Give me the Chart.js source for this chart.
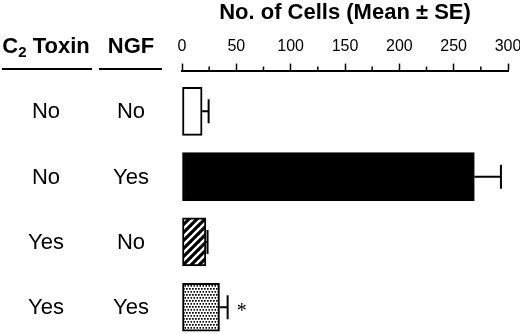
<!DOCTYPE html>
<html>
<head>
<meta charset="utf-8">
<script src="https://cdn.jsdelivr.net/npm/chart.js@4"></script>
<style>
  body { margin: 0; background: #fff; }
  #wrap { width: 520px; height: 334px; overflow: hidden; }
</style>
</head>
<body>
<div id="wrap"><canvas id="cellsChart"></canvas></div>
<script>
const c2Toxin = ["No", "No", "Yes", "Yes"];
const ngf = ["No", "Yes", "No", "Yes"];
const meanCells = [18.5, 269, 22, 34.5];
const seCells = [6, 24.5, 1.5, 7.5];
const marks = ["", "", "", "*"];
const xTicks = [0, 50, 100, 150, 200, 250, 300];

const FONT = "'Liberation Sans', Arial, Helvetica, sans-serif";

function stripePattern() {
    const c = document.createElement("canvas");
    c.width = 8; c.height = 8;
    const g = c.getContext("2d");
    g.fillStyle = "#fff";
    g.fillRect(0, 0, 8, 8);
    g.strokeStyle = "#000";
    g.lineWidth = 3.2;
    [[-8, 8, 8, -8], [0, 8, 8, 0], [0, 16, 16, 0]].forEach(p => {
        g.beginPath();
        g.moveTo(p[0], p[1]);
        g.lineTo(p[2], p[3]);
        g.stroke();
    });
    return g.createPattern(c, "repeat");
}

function dotPattern() {
    const c = document.createElement("canvas");
    c.width = 3; c.height = 6;
    const g = c.getContext("2d");
    g.fillStyle = "#fff";
    g.fillRect(0, 0, 3, 6);
    g.fillStyle = "#000";
    g.fillRect(0, 0, 1.7, 1.7);
    g.fillRect(1.5, 3, 1.7, 1.7);
    return g.createPattern(c, "repeat");
}

// row labels, headers, minor ticks, error bars
const extras = {
    id: "extras",
    afterDatasetsDraw(chart) {
        const ctx = chart.ctx;
        const x = chart.scales.x;
        const y = chart.scales.y;
        const bars = chart.getDatasetMeta(0).data;
        ctx.save();
        ctx.strokeStyle = "#000";
        ctx.fillStyle = "#000";
        ctx.lineWidth = 2;

        // error bars
        bars.forEach((bar, i) => {
            const xe = x.getPixelForValue(meanCells[i] + seCells[i]);
            ctx.beginPath();
            ctx.moveTo(bar.x, bar.y);
            ctx.lineTo(xe, bar.y);
            ctx.moveTo(xe, bar.y - 12);
            ctx.lineTo(xe, bar.y + 12);
            ctx.stroke();
            if (marks[i]) {
                ctx.font = "20px 'Liberation Serif', serif";
                ctx.textAlign = "center";
                ctx.textBaseline = "middle";
                ctx.fillText(marks[i], xe + 14, bar.y + 5);
            }
        });

        // minor ticks
        ctx.lineWidth = 1.5;
        for (let v = 25; v < 300; v += 50) {
            const px = x.getPixelForValue(v);
            ctx.beginPath();
            ctx.moveTo(px, x.bottom);
            ctx.lineTo(px, x.bottom - 4);
            ctx.stroke();
        }

        // table on the left
        ctx.font = "22px " + FONT;
        ctx.textAlign = "center";
        ctx.textBaseline = "alphabetic";
        c2Toxin.forEach((t, i) => {
            const py = y.getPixelForValue(i) + 7;
            ctx.fillText(t, 46, py);
            ctx.fillText(ngf[i], 131, py);
        });

        // headers
        const base = 53;
        ctx.textAlign = "left";
        ctx.font = "bold 22px " + FONT;
        const wC = ctx.measureText("C").width;
        const wT = ctx.measureText(" Toxin").width;
        ctx.font = "bold 15px " + FONT;
        const w2 = ctx.measureText("2").width;
        let sx = 46 - (wC + w2 + wT) / 2;
        ctx.font = "bold 22px " + FONT;
        ctx.fillText("C", sx, base);
        ctx.font = "bold 15px " + FONT;
        ctx.fillText("2", sx + wC, base + 4);
        ctx.font = "bold 22px " + FONT;
        ctx.fillText(" Toxin", sx + wC + w2, base);
        ctx.textAlign = "center";
        ctx.fillText("NGF", 131, base);

        ctx.lineWidth = 2;
        ctx.beginPath();
        ctx.moveTo(2, 69); ctx.lineTo(92, 69);
        ctx.moveTo(99, 69); ctx.lineTo(162, 69);
        ctx.stroke();
        ctx.restore();
    }
};

new Chart(document.getElementById("cellsChart"), {
    type: "bar",
    data: {
        datasets: [{
            data: meanCells.map((m, i) => ({ x: m, y: i })),
            backgroundColor: ["#fff", "#000", stripePattern(), dotPattern()],
            borderColor: "#000",
            borderWidth: 2,
            borderSkipped: false,
            barThickness: 48
        }]
    },
    options: {
        indexAxis: "y",
        responsive: true,
        maintainAspectRatio: false,
        animation: false,
        layout: { padding: { left: 182, right: 0, top: 0, bottom: 0 } },
        plugins: { legend: { display: false }, tooltip: { enabled: false } },
        scales: {
            x: {
                position: "top",
                min: 0,
                max: 300,
                afterBuildTicks: s => { s.ticks = xTicks.map(v => ({ value: v })); },
                afterFit: s => { s.paddingRight = 12; s.paddingLeft = 0; },
                ticks: {
                    color: "#000",
                    font: { family: FONT, size: 16 },
                    padding: 7,
                    maxRotation: 0
                },
                grid: {
                    drawOnChartArea: false,
                    tickLength: 7,
                    tickColor: "#000",
                    tickWidth: 1.5
                },
                border: { display: true, color: "#000", width: 2 },
                title: {
                    display: true,
                    text: "No. of Cells (Mean ± SE)",
                    color: "#000",
                    font: { family: FONT, size: 22, weight: "bold" },
                    padding: { top: 0, bottom: 4 }
                }
            },
            y: {
                type: "linear",
                display: false,
                offset: false,
                reverse: true,
                min: -0.624,
                max: 3.41
            }
        }
    },
    plugins: [extras]
});
</script>
</body>
</html>
